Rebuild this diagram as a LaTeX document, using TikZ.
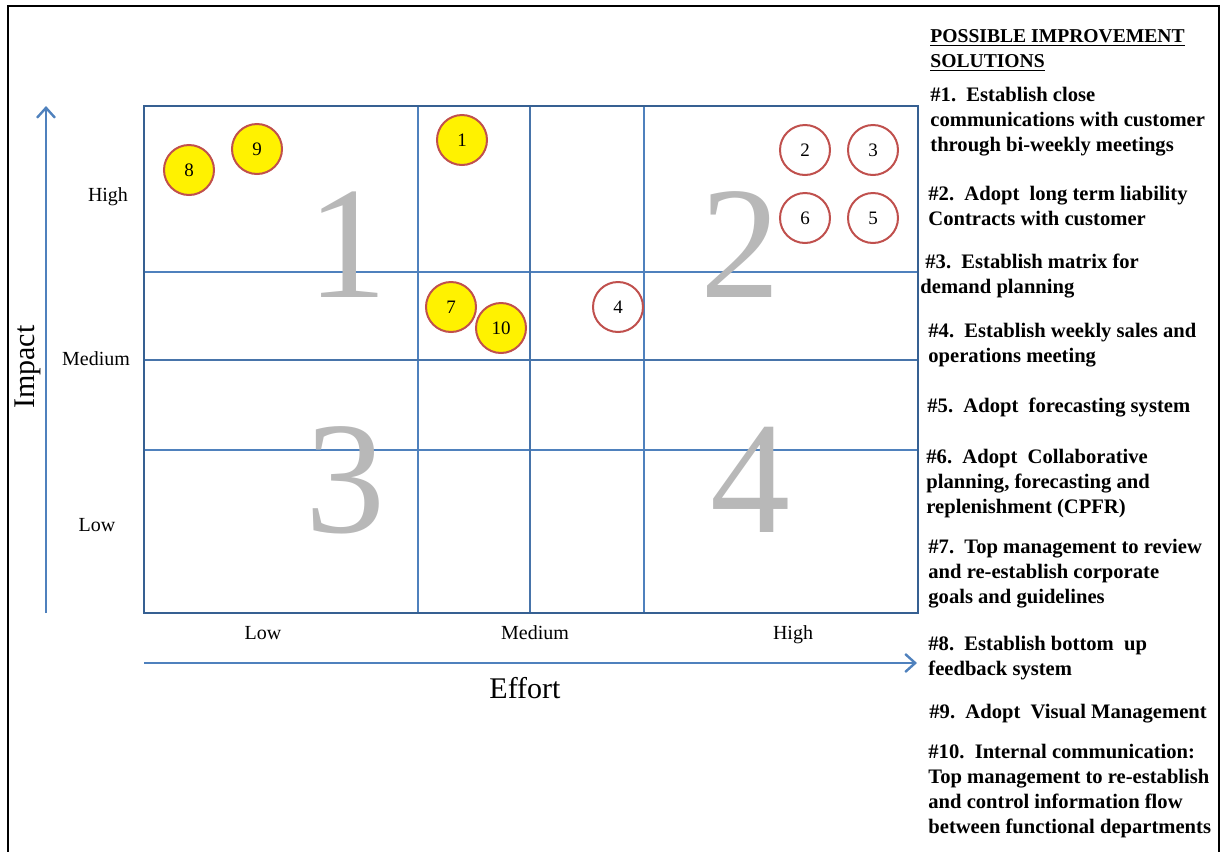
\documentclass[tikz,border=0pt]{standalone}
\usepackage{fontspec}
\setmainfont{Liberation Serif}
\usetikzlibrary{arrows.meta,positioning}
\definecolor{gridblue}{RGB}{79,129,189}
\definecolor{boxblue}{RGB}{54,96,146}
\definecolor{ringred}{RGB}{192,80,77}

\begin{document}
\begin{tikzpicture}[x=0.5pt, y=-0.5pt,
  thinline/.style={gridblue, line width=0.7pt},
  midline/.style={gridblue!90!black, line width=1.2pt},
  axis/.style={gridblue, line width=1.1pt, -{Straight Barb[length=5pt,width=9pt,line width=1.2pt]}},
  quick/.style={circle, draw=ringred, line width=1pt, fill=yellow, minimum size=25pt,
    inner sep=0pt, font=\fontsize{9.5}{9.5}\selectfont},
  later/.style={quick, fill=white},
  zone/.style={text=black!28, inner sep=0pt, font=\fontsize{80}{80}\selectfont},
  level/.style={text height=1.5ex, text depth=0.25ex, font=\fontsize{10}{12}\selectfont},
  item/.style={anchor=north west, align=left, inner sep=0pt,
    font=\bfseries\fontsize{10.3}{12.5}\selectfont}
]
\useasboundingbox (0,0) rectangle (1223,852);
\draw[line width=1pt] (8,852) -- (8,6) -- (1219,6) -- (1219,852);

% matrix grid
\draw[thinline] (418,106) -- (418,613);
\draw[thinline] (644,106) -- (644,613);
\draw[thinline] (144,272) -- (918,272);
\draw[thinline] (144,450) -- (918,450);
\draw[midline] (530,106) -- (530,613);
\draw[midline] (144,360) -- (918,360);
\draw[boxblue, line width=1.3pt] (144,106) rectangle (918,613);

% quadrant numbers
\node[zone] (q1) at (347,245) {1};
\node[zone] (q2) at (740,245) {2};
\node[zone] (q3) at (345,480) {3};
\node[zone] (q4) at (750,480) {4};

% solutions
\node[quick] (s8) at (189,170) {8};
\node[quick] (s9) at (257,149) {9};
\node[quick] (s1) at (462,140) {1};
\node[quick] (s7) at (451,307) {7};
\node[quick] (s10) at (501,328) {10};
\node[later] (s4) at (618,307) {4};
\node[later] (s2) at (805,150) {2};
\node[later] (s3) at (873,150) {3};
\node[later] (s6) at (805,218) {6};
\node[later] (s5) at (873,218) {5};

% axes
\coordinate (ybot) at (46,613);
\coordinate (ytop) at (46,106);
\coordinate (xleft) at (144,663);
\coordinate (xright) at (917,663);
\draw[axis] (ybot) -- (ytop);
\draw[axis] (xleft) -- (xright);
\node[rotate=90, font=\fontsize{15}{15}\selectfont] (impact) at (28,367) {Impact};
\node[font=\fontsize{15}{15}\selectfont] (effort) at (525,688) {Effort};
\node[level] (yhigh) at (108,196) {High};
\node[level] (ymed) at (96,360) {Medium};
\node[level] (ylow) at (97,526) {Low};
\node[level] (xlow) at (263,634) {Low};
\node[level] (xmed) at (535,634) {Medium};
\node[level] (xhigh) at (793,634) {High};

% list of improvement solutions
\node[item, font=\bfseries\fontsize{9.8}{12.5}\selectfont] (title) at (930,29)
  {\underline{POSSIBLE IMPROVEMENT}\\\underline{SOLUTIONS}};
\node[item] (i1) at (930,87) {\#1.\ \ Establish close\\communications with customer\\through bi-weekly meetings};
\node[item] (i2) at (928,186) {\#2.\ \ Adopt\ \ long term liability\\Contracts with customer};
\node[item] (i3) at (920,254) {\hspace*{2.5pt}\#3.\ \ Establish matrix for\\demand planning};
\node[item] (i4) at (928,323) {\#4.\ \ Establish weekly sales and\\operations meeting};
\node[item] (i5) at (927,398) {\#5.\ \ Adopt\ \ forecasting system};
\node[item] (i6) at (926,449) {\#6.\ \ Adopt\ \ Collaborative\\planning, forecasting and\\replenishment (CPFR)};
\node[item] (i7) at (928,539) {\#7.\ \ Top management to review\\and re-establish corporate\\goals and guidelines};
\node[item] (i8) at (928,636) {\#8.\ \ Establish bottom\ \ up\\feedback system};
\node[item] (i9) at (929,704) {\#9.\ \ Adopt\ \ Visual Management};
\node[item] (i10) at (928,744) {\#10.\ \ Internal communication:\\Top management to re-establish\\and control information flow\\between functional departments};
\end{tikzpicture}
\end{document}
